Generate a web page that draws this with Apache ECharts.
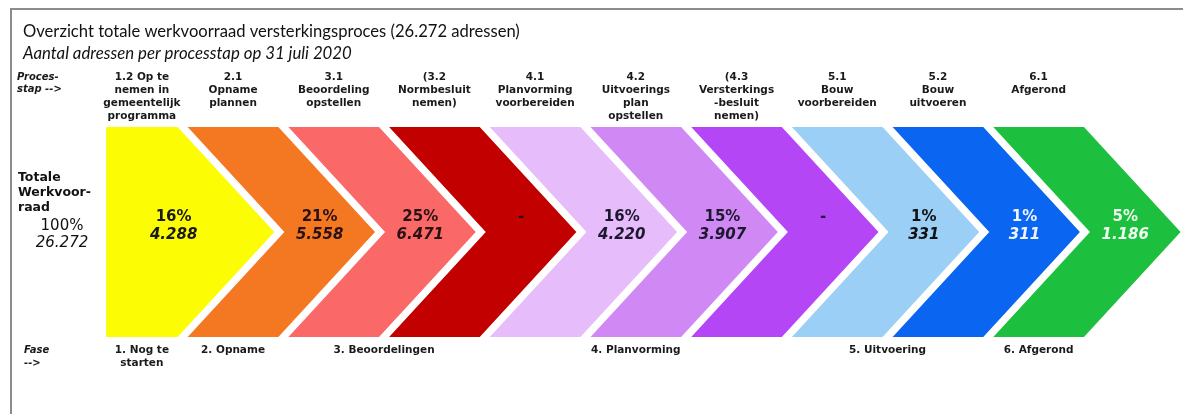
<!DOCTYPE html>
<html>
<head>
<meta charset="utf-8">
<script src="https://cdn.jsdelivr.net/npm/echarts@6/dist/echarts.min.js"></script>
<style>
  html, body { margin: 0; padding: 0; background: #fff; }
  #main { width: 1183px; height: 414px; }
</style>
</head>
<body>
<div id="main"></div>
<script>
// processtappen (bovenste labels)
var steps = [
  "1.2 Op te\nnemen in\ngemeentelijk\nprogramma",
  "2.1\nOpname\nplannen",
  "3.1\nBeoordeling\nopstellen",
  "(3.2\nNormbesluit\nnemen)",
  "4.1\nPlanvorming\nvoorbereiden",
  "4.2\nUitvoerings\nplan\nopstellen",
  "(4.3\nVersterkings\n-besluit\nnemen)",
  "5.1\nBouw\nvoorbereiden",
  "5.2\nBouw\nuitvoeren",
  "6.1\nAfgerond"
];
// aandeel (%) en aantal adressen per stap, null = "-"
var percentages = [16, 21, 25, null, 16, 15, null, 1, 1, 5];
var counts = [4288, 5558, 6471, null, 4220, 3907, null, 331, 311, 1186];
var total = 26272;
// fases (onderste labels) en welke fase bij welke stap hoort
var phases = ["1. Nog te\nstarten", "2. Opname", "3. Beoordelingen", "4. Planvorming", "5. Uitvoering", "6. Afgerond"];
var stepPhase = [0, 1, 2, 2, 3, 3, 3, 4, 4, 5];

var colors = ["#fcfc04", "#f47822", "#fa6868", "#c20000", "#e6bcfa", "#d088f4", "#b546f5", "#9ccff6", "#0a66f0", "#1cc03e"];
var textColors = ["#1a1a1a", "#2a1212", "#2a1212", "#2a1212", "#1c1830", "#1c1830", "#1c1830", "#111", "#eef4ff", "#eefff0"];

var W = 0.9;   // breedte bovenkant chevron (in stappen)
var D = 0.96;  // diepte van de punt

function fmt(n) {
  return String(n).replace(/\B(?=(\d{3})+(?!\d))/g, ".");
}
function leftOf(i) { return i === 0 ? 0.19 : i; }
function rightOf(i) { return i === 0 ? 0.9 : i + W; }

var boldFont = "bold 10.5px 'DejaVu Sans'";

var myChart = echarts.init(document.getElementById("main"));
myChart.setOption({
  backgroundColor: "#fff",
  animation: false,
  title: [
    {
      text: "Overzicht totale werkvoorraad versterkingsproces (26.272 adressen)",
      left: 23, top: 23, padding: 0,
      textStyle: { fontFamily: "Lato", fontSize: 16.6, fontWeight: "normal", color: "#111" }
    },
    {
      text: "Aantal adressen per processtap op 31 juli 2020",
      left: 23, top: 45, padding: 0,
      textStyle: { fontFamily: "Lato", fontSize: 16.8, fontWeight: "normal", fontStyle: "italic", color: "#111" }
    }
  ],
  grid: { left: 87, width: 1007, top: 127, height: 210 },
  xAxis: { type: "value", min: 0, max: 10, show: false },
  yAxis: { type: "value", min: 0, max: 1, show: false },
  graphic: [
    { type: "rect", shape: { x: 11, y: 9, width: 1200, height: 500 }, style: { fill: null, stroke: "#8c8c8c", lineWidth: 2 } },
    { type: "text", x: 17, y: 71, style: { text: "Proces-\nstap -->", font: "italic bold 10px 'DejaVu Sans'", lineHeight: 12.5, fill: "#1a1a1a" } },
    { type: "text", x: 18, y: 170, style: { text: "Totale\nWerkvoor-\nraad", font: "bold 12.5px 'DejaVu Sans'", lineHeight: 15, fill: "#111" } },
    { type: "text", x: 62, y: 226, style: { text: "100%", font: "15px 'DejaVu Sans'", align: "center", verticalAlign: "middle", fill: "#111" } },
    { type: "text", x: 62, y: 243, style: { text: fmt(total), font: "italic 15px 'DejaVu Sans'", align: "center", verticalAlign: "middle", fill: "#111" } },
    { type: "text", x: 24, y: 344, style: { text: "Fase\n-->", font: "italic bold 10px 'DejaVu Sans'", lineHeight: 13, fill: "#1a1a1a" } }
  ],
  series: [
    {
      type: "custom",
      silent: true,
      data: steps.map(function (s, i) { return [i]; }),
      renderItem: function (params, api) {
        var i = api.value(0);
        var x0 = leftOf(i), x1 = rightOf(i);
        var top = api.coord([0, 1])[1];
        var bot = api.coord([0, 0])[1];
        var mid = api.coord([0, 0.5])[1];
        var px = function (v) { return api.coord([v, 0])[0]; };
        var pts = [[px(x0), top], [px(x1), top], [px(x1 + D), mid], [px(x1), bot], [px(x0), bot]];
        if (i > 0) pts.push([px(x0 + D), mid]);
        var cx = i === 0 ? px(0.86) : px(x0 + D + 0.35);
        var tc = textColors[i];
        var children = [
          { type: "polygon", shape: { points: pts }, style: { fill: colors[i] } },
          {
            type: "text",
            style: {
              text: steps[i], x: px((x0 + x1) / 2), y: top - 56,
              font: boldFont, lineHeight: 13, align: "center", verticalAlign: "top", fill: "#1a1a1a"
            }
          }
        ];
        if (percentages[i] == null) {
          children.push({ type: "text", style: { text: "-", x: cx, y: mid - 15, font: "bold 15px 'DejaVu Sans'", align: "center", verticalAlign: "middle", fill: tc } });
        } else {
          children.push({ type: "text", style: { text: percentages[i] + "%", x: cx, y: mid - 15, font: "bold 15px 'DejaVu Sans'", align: "center", verticalAlign: "middle", fill: tc } });
          children.push({ type: "text", style: { text: fmt(counts[i]), x: cx, y: mid + 3, font: "italic bold 15px 'DejaVu Sans'", align: "center", verticalAlign: "middle", fill: tc } });
        }
        return { type: "group", children: children };
      }
    },
    {
      type: "custom",
      silent: true,
      data: phases.map(function (p, k) { return [k]; }),
      renderItem: function (params, api) {
        var k = api.value(0);
        var sum = 0, n = 0;
        stepPhase.forEach(function (ph, i) {
          if (ph === k) { sum += (leftOf(i) + rightOf(i)) / 2; n++; }
        });
        var bot = api.coord([0, 0])[1];
        var pos = api.coord([sum / n, 0]);
        return {
          type: "text",
          style: {
            text: phases[k], x: pos[0], y: bot + 7,
            font: "bold 10.5px 'DejaVu Sans'", lineHeight: 13, align: "center", verticalAlign: "top", fill: "#1a1a1a"
          }
        };
      }
    }
  ]
});
</script>
</body>
</html>
